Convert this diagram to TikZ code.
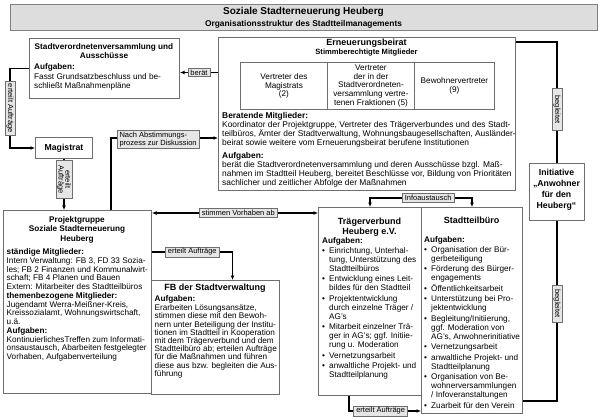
\documentclass[tikz,border=0pt]{standalone}
\usepackage{fontspec}
\setmainfont{Liberation Sans}
\usetikzlibrary{arrows.meta}
\definecolor{boxgray}{HTML}{6E6E6E}
\definecolor{lblfill}{HTML}{E6E6E6}
\definecolor{titlefill}{HTML}{DDDDDD}
\newcommand{\bodyfont}{\fontsize{8.2}{8.8}\selectfont}
\newcommand{\bitem}{\makebox[7pt][l]{\textbullet}}
\newcommand{\bcont}{\hspace*{7pt}}
\begin{document}
\begin{tikzpicture}[x=1pt,y=-1pt,
  box/.style={draw=boxgray, line width=1pt, fill=white, inner sep=0pt, anchor=north west},
  cell/.style={draw=boxgray, line width=0.9pt, inner sep=0pt, anchor=north west, align=center, font=\fontsize{8.2}{8.6}\selectfont},
  txt/.style={inner sep=0pt, anchor=north west, align=left, font=\bodyfont},
  hd/.style={inner sep=0pt, anchor=north, align=center, font=\bfseries\fontsize{8.2}{9.2}\selectfont},
  lbl/.style={draw=boxgray, fill=lblfill, line width=0.6pt, inner xsep=2.5pt, inner ysep=1.5pt, font=\fontsize{7.5}{7.6}\selectfont, align=left},
  conn/.style={line width=1.1pt, draw=black},
  arr/.style={conn, -{Latex[length=4.5pt,width=4pt]}},
  barr/.style={conn, {Latex[length=4.5pt,width=4pt]}-{Latex[length=4.5pt,width=4pt]}},
]
\useasboundingbox[fill=white] (0,0) rectangle (600,420);

% title
\node[box, fill=titlefill, draw=gray, minimum width=587pt, minimum height=26pt] (title) at (10,4) {};
\node[inner sep=0pt, font=\bfseries\fontsize{10}{11}\selectfont] (t1) at (303.5,12) {Soziale Stadterneuerung Heuberg};
\node[inner sep=0pt, font=\bfseries\fontsize{8.4}{9}\selectfont] (t2) at (303.5,24) {Organisationsstruktur des Stadtteilmanagements};

% Stadtverordnetenversammlung
\node[box, minimum width=150pt, minimum height=60pt] (svv) at (29,38) {};
\node[hd] (svvh) at (104,43.5) {Stadtverordnetenversammlung und\\Ausschüsse};
\node[txt] (svvt) at (34,63.5) {\textbf{Aufgaben:}\\[1pt]Fasst Grundsatzbeschluss und be-\\schließt Maßnahmenpläne};

% Erneuerungsbeirat
\node[box, minimum width=297pt, minimum height=153pt] (eb) at (218,37) {};
\node[hd, font=\bfseries\fontsize{9}{10}\selectfont] (ebh) at (366.5,38.5) {Erneuerungsbeirat};
\node[hd, font=\bfseries\fontsize{7.6}{8}\selectfont] (ebh2) at (366.5,48.5) {Stimmberechtigte Mitglieder};
\node[cell, minimum width=87pt, minimum height=47pt] (c1) at (240,62) {Vertreter des\\Magistrats\\(2)};
\node[cell, minimum width=87pt, minimum height=47pt] (c2) at (327,62) {Vertreter\\der in der\\Stadtverordneten-\\versammlung vertre-\\tenen Fraktionen (5)};
\node[cell, minimum width=80pt, minimum height=47pt] (c3) at (414,62) {Bewohnervertreter\\(9)};
\node[txt, font=\fontsize{8.4}{8.9}\selectfont] (ebt) at (222,112) {\textbf{Beratende Mitglieder:}\\[0.5pt]
Koordinator der Projektgruppe, Vertreter des Trägerverbundes und des Stadt-\\
teilbüros, Ämter der Stadtverwaltung, Wohnungsbaugesellschaften, Ausländer-\\
beirat sowie weitere vom Erneuerungsbeirat berufene Institutionen\\[4pt]
\textbf{Aufgaben:}\\
berät die Stadtverordnetenversammlung und deren Ausschüsse bzgl. Maß-\\
nahmen im Stadtteil Heuberg, bereitet Beschlüsse vor, Bildung von Prioritäten\\
sachlicher und zeitlicher Abfolge der Maßnahmen};

% Magistrat
\node[box, minimum width=57pt, minimum height=21pt, font=\bfseries\fontsize{8.7}{9}\selectfont] (mag) at (35,137) {Magistrat};

% Projektgruppe
\node[box, minimum width=148pt, minimum height=183pt] (pg) at (3,210) {};
\node[hd] (pgh) at (77,216.5) {Projektgruppe\\Soziale Stadterneuerung\\Heuberg};
\node[txt, font=\fontsize{8.2}{8.75}\selectfont] (pgt) at (6.5,248.5) {\textbf{ständige Mitglieder:}\\
Intern Verwaltung: FB 3, FD 33 Sozia-\\
les; FB 2 Finanzen und Kommunalwirt-\\
schaft; FB 4 Planen und Bauen\\
Extern: Mitarbeiter des Stadtteilbüros\\
\textbf{themenbezogene Mitglieder:}\\
Jugendamt Werra-Meißner-Kreis,\\
Kreissozialamt, Wohnungswirtschaft,\\
u.ä.\\
\textbf{Aufgaben:}\\
KontinuierlichesTreffen zum Informati-\\
onsaustausch, Abarbeiten festgelegter\\
Vorhaben, Aufgabenverteilung};

% FB der Stadtverwaltung
\node[box, minimum width=128pt, minimum height=114pt] (fb) at (151,280) {};
\node[hd, font=\bfseries\fontsize{9}{10}\selectfont] (fbh) at (215,283.5) {FB der Stadtverwaltung};
\node[txt, font=\fontsize{8.2}{8.2}\selectfont] (fbt) at (154.5,295.5) {\textbf{Aufgaben:}\\[0.8pt]
Erarbeiten Lösungsansätze,\\
stimmen diese mit den Bewoh-\\
nern unter Beteiligung der Institu-\\
tionen im Stadtteil in Kooperation\\
mit dem Trägerverbund und dem\\
Stadtteilbüro ab; erteilen Aufträge\\
für die Maßnahmen und führen\\
diese aus bzw. begleiten die Aus-\\
führung};

% Traegerverbund
\node[box, minimum width=103pt, minimum height=188pt] (tv) at (318,207) {};
\node[hd, font=\bfseries\fontsize{9}{10}\selectfont] (tvh) at (369.5,217.5) {Trägerverbund\\Heuberg e.V.};
\node[txt, font=\fontsize{8.2}{9}\selectfont] (tvt) at (322,237.5) {\textbf{Aufgaben:}\\[0.5pt]
\bitem Einrichtung, Unterhal-\\ \bcont tung, Unterstützung des\\ \bcont Stadtteilbüros\\[1.5pt]
\bitem Entwicklung eines Leit-\\ \bcont bildes für den Stadtteil\\[1.5pt]
\bitem Projektentwicklung\\ \bcont durch einzelne Träger /\\ \bcont AG's\\[1.5pt]
\bitem Mitarbeit einzelner Trä-\\ \bcont ger in AG's; ggf. Initiie-\\ \bcont rung u. Moderation\\[1.5pt]
\bitem Vernetzungsarbeit\\[1.5pt]
\bitem anwaltliche Projekt- und\\ \bcont Stadtteilplanung};

% Stadtteilbuero
\node[box, minimum width=101pt, minimum height=206pt] (stb) at (421,207) {};
\node[hd, font=\bfseries\fontsize{9}{10}\selectfont] (stbh) at (471.5,217) {Stadtteilbüro};
\node[txt, font=\fontsize{8.2}{9}\selectfont] (stbt) at (424,236.5) {\textbf{Aufgaben:}\\[0.5pt]
\bitem Organisation der Bür-\\ \bcont gerbeteiligung\\[1.5pt]
\bitem Förderung des Bürger-\\ \bcont engagements\\[1.5pt]
\bitem Öffentlichkeitsarbeit\\[1.5pt]
\bitem Unterstützung bei Pro-\\ \bcont jektentwicklung\\[1.5pt]
\bitem Begleitung/Initiierung,\\ \bcont ggf. Moderation von\\ \bcont AG's, Anwohnerinitiative\\[1.5pt]
\bitem Vernetzungsarbeit\\[1.5pt]
\bitem anwaltliche Projekt- und\\ \bcont Stadtteilplanung\\[1.5pt]
\bitem Organisation von Be-\\ \bcont wohnerversammlungen\\ \bcont / Infoveranstaltungen\\[1.5pt]
\bitem Zuarbeit für den Verein};

% Initiative
\node[box, minimum width=55pt, minimum height=57pt] (ini) at (529,163) {};
\node[hd, font=\bfseries\fontsize{8.7}{11}\selectfont] (inih) at (556.5,168.5) {Initiative\\„Anwohner\\für den\\Heuberg“};

% connectors
\coordinate (sb) at ([yshift=-4pt]svv.east);
\draw[arr] (sb -| eb.west) -- (sb) node[lbl, midway] {berät};
\draw[arr] (svv.west) -- ++(-19,0) |- node[lbl, rotate=-90, pos=0.25, minimum width=50pt, align=center] {erteilt Aufträge} (mag.west);
\draw[arr] (mag.south) -- (mag.south |- pg.north) node[lbl, rotate=-90, pos=0.4, minimum width=38pt, align=center, font=\fontsize{7.5}{6.8}\selectfont, inner ysep=1pt] {erteilt\\Aufträge};
\draw[arr] ([xshift=108pt]pg.north west) |- node[lbl, pos=0.72, yshift=-1.5pt] {Nach Abstimmungs-\\prozess zur Diskussion} ([yshift=-24pt]eb.west);
\coordinate (sv) at ([yshift=-3pt]pg.north east);
\draw[barr] (sv) -- (sv -| tv.west) node[lbl, pos=0.52] {stimmen Vorhaben ab};
\draw[arr] ([yshift=-42pt]pg.north east) -| node[lbl, pos=0.25] {erteilt Aufträge} ([xshift=17pt]fb.north);
\draw[barr] (tv.north) -- ++(0,-9) -| node[lbl, pos=0.285] {Infoaustausch} (stb.north);
\draw[arr] ([xshift=-21pt]tv.south) |- node[lbl, pos=0.72] {erteilt Aufträge} ([yshift=3pt]stb.south west);
\draw[conn] ([yshift=-5pt]eb.north east) -| node[lbl, rotate=-90, pos=0.78, minimum width=42pt, align=center] {begleitet} (ini.north);
\draw[conn] (ini.south) |- node[lbl, rotate=-90, pos=0.23, minimum width=37pt, align=center] {begleitet} ([yshift=13pt]stb.south east);
\end{tikzpicture}
\end{document}
